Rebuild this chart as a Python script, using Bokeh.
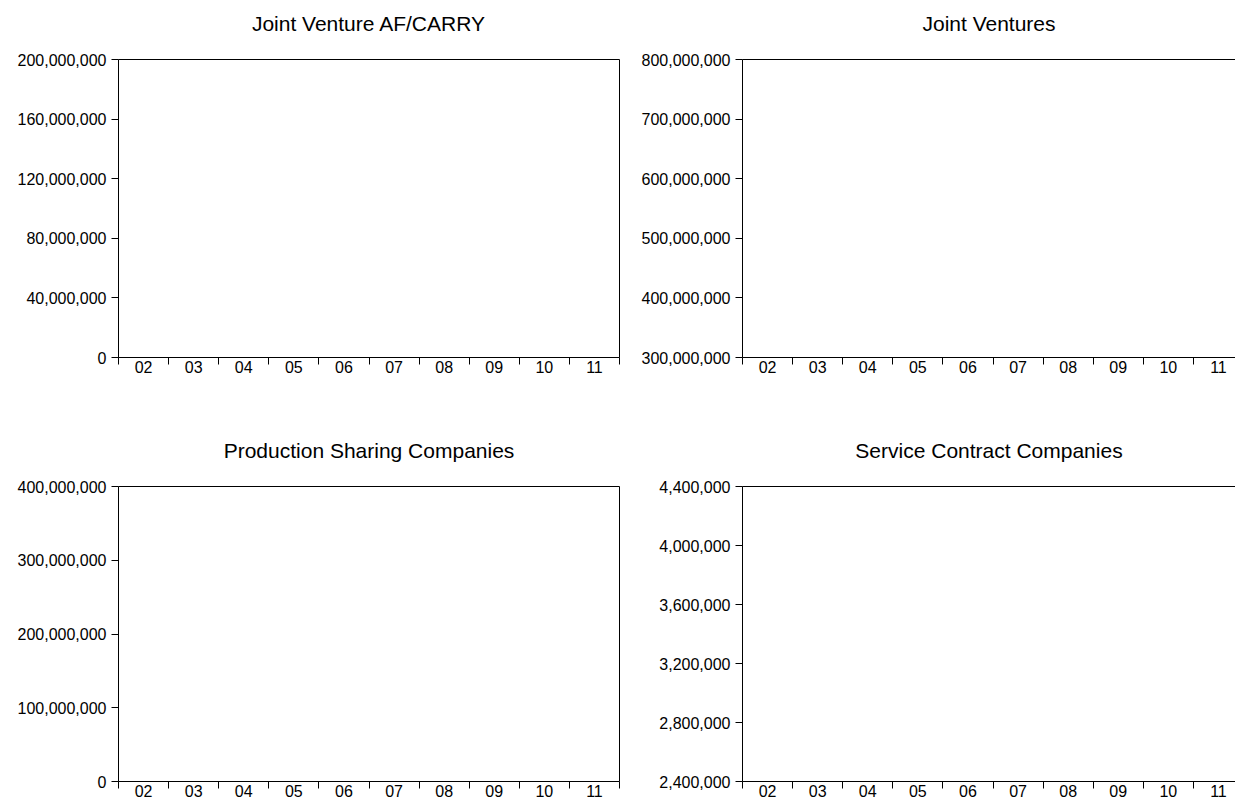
from bokeh.plotting import figure
from bokeh.layouts import gridplot
from bokeh.models import Range1d, FixedTicker, LinearAxis, NumeralTickFormatter
from bokeh.embed import file_html
from bokeh.resources import INLINE

# ---- data ----
years = ["02", "03", "04", "05", "06", "07", "08", "09", "10", "11"]

titles = [
    "Joint Venture AF/CARRY",
    "Joint Ventures",
    "Production Sharing Companies",
    "Service Contract Companies",
]

y_ticks_jv_af = [0, 40000000, 80000000, 120000000, 160000000, 200000000]
y_ticks_jv = [300000000, 400000000, 500000000, 600000000, 700000000, 800000000]
y_ticks_psc = [0, 100000000, 200000000, 300000000, 400000000]
y_ticks_scc = [2400000, 2800000, 3200000, 3600000, 4000000, 4400000]

FONT = "Liberation Sans"
TICK_SIZE = "16px"
TITLE_SIZE = "21px"


def make_panel(title, y_ticks, width, height, border_left, border_right,
               border_top, border_bottom, x_visible, right_border):
    n = len(years)
    p = figure(
        width=width, height=height,
        x_range=Range1d(0, x_visible), y_range=Range1d(min(y_ticks), max(y_ticks)),
        x_axis_type=None, y_axis_type=None,
        output_backend="svg", toolbar_location=None,
        min_border_left=border_left, min_border_right=border_right,
        min_border_top=border_top, min_border_bottom=border_bottom,
    )
    p.outline_line_color = None
    p.background_fill_color = "white"
    p.border_fill_color = "white"

    centers = [i + 0.5 for i in range(n)]
    bounds = [i for i in range(n + 1)]
    overrides = {c: lab for c, lab in zip(centers, years)}

    xaxis = LinearAxis(
        ticker=FixedTicker(ticks=centers, minor_ticks=bounds),
        major_label_overrides=overrides,
        major_tick_out=0, major_tick_in=0,
        minor_tick_out=7, minor_tick_in=0,
        major_label_standoff=-4,
        axis_line_color="black", minor_tick_line_color="black",
        major_label_text_font=FONT, major_label_text_font_size=TICK_SIZE,
        major_label_text_color="black",
    )
    p.add_layout(xaxis, "below")

    yaxis = LinearAxis(
        ticker=FixedTicker(ticks=y_ticks, minor_ticks=[]),
        formatter=NumeralTickFormatter(format="0,0"),
        major_tick_out=7, major_tick_in=0,
        minor_tick_out=0, minor_tick_in=0,
        major_label_standoff=5,
        axis_line_color="black", major_tick_line_color="black",
        major_label_text_font=FONT, major_label_text_font_size=TICK_SIZE,
        major_label_text_color="black",
    )
    p.add_layout(yaxis, "left")

    # top border (no ticks); a blank axis label spaces the title upward
    top = LinearAxis(
        ticker=FixedTicker(ticks=[], minor_ticks=[]),
        major_tick_out=0, major_tick_in=0, minor_tick_out=0, minor_tick_in=0,
        major_tick_line_color=None, minor_tick_line_color=None,
        major_label_text_alpha=0, axis_line_color="black",
        major_label_standoff=0,
        axis_label=" ", axis_label_text_font_size="8px",
        axis_label_standoff=4,
    )
    p.add_layout(top, "above")
    if right_border:
        rt = LinearAxis(
            ticker=FixedTicker(ticks=[], minor_ticks=[]),
            major_tick_out=0, major_tick_in=0, minor_tick_out=0, minor_tick_in=0,
            major_tick_line_color=None, minor_tick_line_color=None,
            major_label_text_alpha=0, axis_line_color="black",
            major_label_standoff=0,
        )
        p.add_layout(rt, "right")

    p.title.text = title
    p.title.align = "center"
    p.title.text_font = FONT
    p.title.text_font_size = TITLE_SIZE
    p.title.text_font_style = "normal"
    p.title.text_color = "black"
    p.title.standoff = 18
    return p


LEFT_W, RIGHT_W = 631, 604
TOP_H, BOT_H = 420, 391
PX_PER_YEAR = 50.1
right_visible = (RIGHT_W - 111) / PX_PER_YEAR

p1 = make_panel(titles[0], y_ticks_jv_af, LEFT_W, TOP_H, 118, 12, 59, 63,
                len(years), True)
p2 = make_panel(titles[1], y_ticks_jv, RIGHT_W, TOP_H, 111, 0, 59, 63,
                right_visible, False)
p3 = make_panel(titles[2], y_ticks_psc, LEFT_W, BOT_H, 118, 12, 66, 30,
                len(years), True)
p4 = make_panel(titles[3], y_ticks_scc, RIGHT_W, BOT_H, 111, 0, 66, 30,
                right_visible, False)

grid = gridplot([[p1, p2], [p3, p4]], toolbar_location=None)

open("out.html", "w").write(file_html(grid, INLINE))
